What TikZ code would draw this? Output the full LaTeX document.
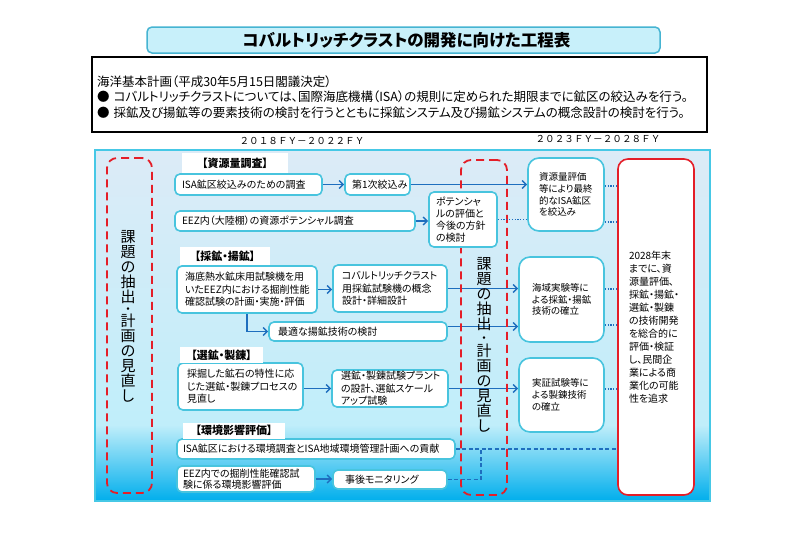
\documentclass[tikz,border=0pt]{standalone}
\usepackage{fontspec}
\setmainfont{Noto Sans CJK JP}[RawFeature=+palt]
\newfontfamily\jpfw{Noto Sans CJK JP}
\usetikzlibrary{arrows.meta,calc}
\definecolor{bgtop}{RGB}{220,235,247}
\definecolor{bgmid}{RGB}{192,238,250}
\definecolor{bgbot}{RGB}{0,174,236}
\definecolor{boxc}{RGB}{72,196,222}
\definecolor{arrc}{RGB}{30,110,190}
\definecolor{redc}{RGB}{228,30,40}
\definecolor{titlefill}{RGB}{200,240,250}
\definecolor{titleline}{RGB}{70,180,210}
\definecolor{mainline}{RGB}{70,200,230}
\newcommand{\smalldot}{{\fontsize{9}{9}\selectfont\bfseries ・}}
\tikzset{
  bx/.style={draw=boxc, fill=white, line width=1.6pt, rounded corners=5pt,
    inner xsep=7pt, inner ysep=1pt, align=left, font=\fontsize{10}{12.5}\selectfont},
  rbx/.style={bx, rounded corners=11pt, font=\fontsize{9.5}{11.8}\selectfont},
  hdr/.style={fill=white, inner sep=0pt, font=\bfseries\fontsize{11}{13}\selectfont},
  arr/.style={draw=arrc, line width=1.4pt, -{Straight Barb[length=4pt,width=8pt]}},
  dotl/.style={draw=arrc, line width=1.2pt, dash pattern=on 1.2pt off 1.6pt},
  dashl/.style={draw=arrc, line width=1.2pt, dash pattern=on 4pt off 2.5pt},
  reddash/.style={draw=redc, line width=1.8pt, dash pattern=on 8pt off 5pt, rounded corners=10pt},
  vtxt/.style={align=center, inner sep=0pt, font=\fontsize{15}{15}\selectfont},
  yr/.style={inner sep=0pt, font=\jpfw\fontsize{9.6}{10}\selectfont}
}
\begin{document}
\begin{tikzpicture}[x=1pt,y=-1pt]
\useasboundingbox (0,0) rectangle (800,533);
\fill[white] (0,0) rectangle (800,533);

% title
\node[draw=titleline, fill=titlefill, line width=1.5pt, rounded corners=5pt,
  minimum width=513pt, minimum height=26pt, inner sep=0pt,
  font=\bfseries\fontsize{16.5}{18}\selectfont] (title) at (403.5,40)
  {\hspace*{6pt}コバルトリッチクラストの開発に向けた工程表};

% info box
\node[draw=black, line width=1.3pt, fill=white, text width=605pt, inner xsep=5pt,
  minimum height=75pt, align=left, font=\fontsize{12.5}{15.5}\selectfont] (info) at (399.5,94.5)
  {\rule{0pt}{16pt}海洋基本計画（平成30年5月15日閣議決定）\\
   ● コバルトリッチクラストについては、国際海底機構（ISA）の規則に定められた期限までに鉱区の絞込みを行う。\\
   ● 採鉱及び揚鉱等の要素技術の検討を行うとともに採鉱システム及び揚鉱システムの概念設計の検討を行う。};

% years
\node[yr] (y1) at (302,140.5) {２０１８ＦＹ－２０２２ＦＹ};
\node[yr] (y2) at (598,139) {２０２３ＦＹ－２０２８ＦＹ};

% background
\shade[top color=bgtop, bottom color=bgmid] (95,150) rectangle (710,425);
\shade[top color=bgmid, bottom color=bgbot] (95,425) rectangle (710,501);
\draw[mainline, line width=1.5pt] (95,150) rectangle (710,501);

% boxes
\node[bx, text width=133pt, minimum height=21pt] (A1) at (248.5,184.5) {ISA鉱区絞込みのための調査};
\node[bx, text width=51pt, minimum height=21pt] (A2) at (377.5,184.5) {第1次絞込み};
\node[bx, text width=226pt, minimum height=20pt] (A3) at (295,221) {EEZ内（大陸棚）の資源ポテンシャル調査};
\node[bx, inner xsep=8pt, text width=124pt, minimum height=47pt] (B1) at (247,289.5)
  {海底熱水鉱床用試験機を用\\いたEEZ内における掘削性能\\確認試験の計画・実施・評価};
\node[bx, inner xsep=9pt, text width=96pt, minimum height=47pt] (B2) at (390,288.5)
  {コバルトリッチクラスト\\用採鉱試験機の概念\\設計・詳細設計};
\node[bx, inner xsep=9pt, text width=160pt, minimum height=19pt] (B3) at (358,331.5) {最適な揚鉱技術の検討};
\node[bx, inner xsep=9pt, text width=107pt, minimum height=47pt] (C1) at (240.5,386.5)
  {採掘した鉱石の特性に応\\じた選鉱・製錬プロセスの\\見直し};
\node[bx, inner xsep=9pt, text width=98pt, minimum height=37pt] (C2) at (390,388.5)
  {選鉱・製錬試験プラント\\の設計、選鉱スケール\\アップ試験};
\node[bx, inner xsep=6pt, text width=266pt, minimum height=20pt] (D1) at (316,449)
  {ISA鉱区における環境調査とISA地域環境管理計画への貢献};
\node[bx, inner xsep=6pt, text width=126pt, minimum height=26pt, font=\fontsize{10}{11}\selectfont] (D2) at (246,479)
  {EEZ内での掘削性能確認試\\験に係る環境影響評価};
\node[bx, inner xsep=12pt, text width=90pt, minimum height=19pt] (D3) at (390,479.5) {事後モニタリング};
\node[rbx, inner xsep=11pt, text width=54pt, minimum height=73pt] (R1) at (566,194.5)
  {資源量評価\\等により最終\\的なISA鉱区\\を絞込み};
\node[rbx, inner xsep=13pt, text width=59pt, minimum height=85pt] (R2) at (561.5,299.5)
  {海域実験等に\\よる採鉱・揚鉱\\技術の確立};
\node[rbx, inner xsep=13pt, text width=59pt, minimum height=74pt] (R3) at (561.5,395)
  {実証試験等に\\よる製錬技術\\の確立};
\node[bx, draw=redc, rounded corners=10pt, inner xsep=11pt, text width=54pt, minimum height=336pt,
  font=\fontsize{10}{13}\selectfont] (R4) at (656,327)
  {2028年末\\までに、資\\源量評価、\\採鉱・揚鉱・\\選鉱・製錬\\の技術開発\\を総合的に\\評価・検証\\し、民間企\\業による商\\業化の可能\\性を追求};

% connectors
\draw[arr] (A1.east) -- (A2.west);
\draw[arr] (A2.east) -- (A2.east -| R1.west);
\draw[arr] (B1.east) -- (B1.east -| B2.west);
\draw[arr] (B2.east) -- (B2.east -| R2.west);
\draw[arr] (B1.south) |- (B3.west);
\coordinate (b3a) at ($(B3.east)+(0,-5)$);
\draw[arr] (b3a) -- (b3a -| R2.west);
\draw[arr] (C1.east |- C2.west) -- (C2.west);
\draw[arr] (C2.east) -- (C2.east -| R3.west);
\draw[arr] (D2.east) -- (D2.east -| D3.west);
\coordinate (r1a) at ($(R1.east)+(0,-8.5)$);
\coordinate (r1b) at ($(R1.east)+(0,27.5)$);
\coordinate (r2a) at ($(R2.east)+(0,-10.5)$);
\coordinate (r2b) at ($(R2.east)+(0,25.5)$);
\coordinate (r3a) at ($(R3.east)+(0,-6)$);
\draw[dotl] (r1a) -- (r1a -| R4.west);
\draw[dotl] (r1b) -- (r1b -| R4.west);
\draw[dotl] (r2a) -- (r2a -| R4.west);
\draw[dotl] (r2b) -- (r2b -| R4.west);
\draw[dotl] (r3a) -- (r3a -| R4.west);
\coordinate (jn) at (481,449);
\draw[dashl] (D1.east) -- (D1.east -| R4.west);
\draw[dashl] (D3.east) -| (jn);

% red dashed frames
\node[reddash, minimum width=45pt, minimum height=335pt, inner sep=0pt] (redL) at (129.5,325.5) {};
\node[reddash, minimum width=46pt, minimum height=335pt, inner sep=0pt] (redM) at (484,327.5) {};

% potential box (above red frame)
\node[bx, inner xsep=7pt, text width=54pt, minimum height=55pt, font=\fontsize{10}{12}\selectfont] (A4) at (463,219.5)
  {ポテンシャ\\ルの評価と\\今後の方針\\の検討};
\draw[arr] (A3.east) -- (A3.east -| A4.west);
\draw[dotl] (A4.east) -- (A4.east -| R1.west);

% vertical texts
\node[vtxt] (vL) at (128,316) {課\\題\\の\\抽\\出\\[-4.9pt]\smalldot\\[-1.1pt]計\\画\\の\\見\\直\\し};
\node[vtxt] (vM) at (484,345) {課\\題\\の\\抽\\出\\[-3.5pt]\smalldot\\[0.5pt]計\\画\\の\\見\\直\\し};

% section headers
\node[hdr, minimum width=106pt, minimum height=20pt] (H1) at (235,163) {【資源量調査】};
\node[hdr, minimum width=90pt, minimum height=18pt] (H2) at (225,256) {【採鉱・揚鉱】};
\node[hdr, minimum width=83pt, minimum height=16pt] (H3) at (221.5,355) {【選鉱・製錬】};
\node[hdr, minimum width=102pt, minimum height=16pt] (H4) at (234,430.5) {【環境影響評価】};
\end{tikzpicture}
\end{document}
